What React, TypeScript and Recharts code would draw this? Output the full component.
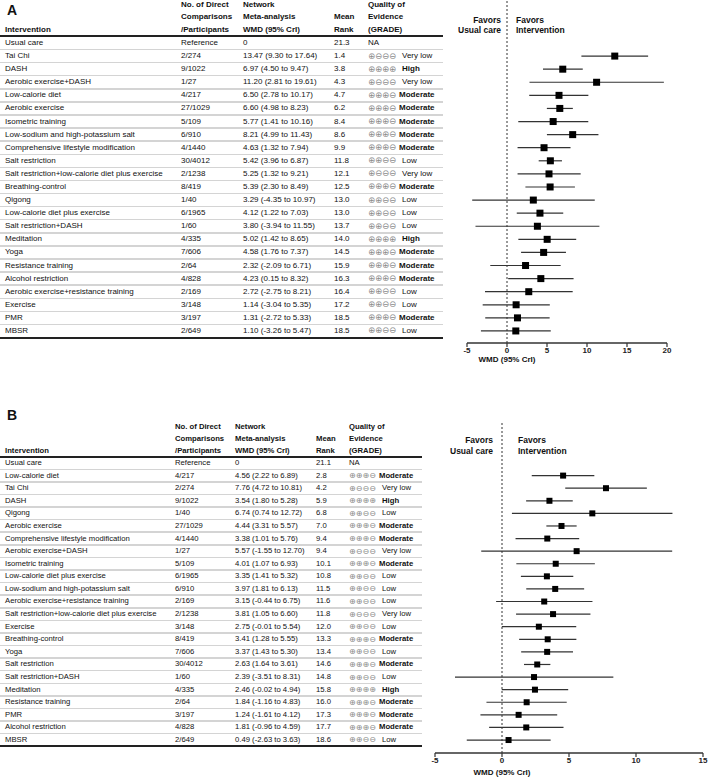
import React from 'react';
import { ScatterChart, Scatter, XAxis, YAxis, ErrorBar, ReferenceLine } from 'recharts';

// ---------- Panel A data ----------
const interventionsA = ['Usual care', 'Tai Chi', 'DASH', 'Aerobic exercise+DASH', 'Low-calorie diet', 'Aerobic exercise', 'Isometric training', 'Low-sodium and high-potassium salt', 'Comprehensive lifestyle modification', 'Salt restriction', 'Salt restriction+low-calorie diet plus exercise', 'Breathing-control', 'Qigong', 'Low-calorie diet plus exercise', 'Salt restriction+DASH', 'Meditation', 'Yoga', 'Resistance training', 'Alcohol restriction', 'Aerobic exercise+resistance training', 'Exercise', 'PMR', 'MBSR'];
const directA = ['Reference', '2/274', '9/1022', '1/27', '4/217', '27/1029', '5/109', '6/910', '4/1440', '30/4012', '2/1238', '8/419', '1/40', '6/1965', '1/60', '4/335', '7/606', '2/64', '4/828', '2/169', '3/148', '3/197', '2/649'];
const estA = [0, 13.47, 6.97, 11.2, 6.5, 6.6, 5.77, 8.21, 4.63, 5.42, 5.25, 5.39, 3.29, 4.12, 3.8, 5.02, 4.58, 2.32, 4.23, 2.72, 1.14, 1.31, 1.1];
const lowA = [0, 9.3, 4.5, 2.81, 2.78, 4.98, 1.41, 4.99, 1.32, 3.96, 1.32, 2.3, -4.35, 1.22, -3.94, 1.42, 1.76, -2.09, 0.15, -2.75, -3.04, -2.72, -3.26];
const highA = [0, 17.64, 9.47, 19.61, 10.17, 8.23, 10.16, 11.43, 7.94, 6.87, 9.21, 8.49, 10.97, 7.03, 11.55, 8.65, 7.37, 6.71, 8.32, 8.21, 5.35, 5.33, 5.47];
const rankA = ['21.3', '1.4', '3.8', '4.3', '4.7', '6.2', '8.4', '8.6', '9.9', '11.8', '12.1', '12.5', '13.0', '13.0', '13.7', '14.0', '14.5', '15.9', '16.3', '16.4', '17.2', '18.5', '18.5'];
const gradeA = ['NA', 'Very low', 'High', 'Very low', 'Moderate', 'Moderate', 'Moderate', 'Moderate', 'Moderate', 'Low', 'Very low', 'Moderate', 'Low', 'Low', 'Low', 'High', 'Moderate', 'Moderate', 'Moderate', 'Low', 'Low', 'Moderate', 'Low'];
const ticksA = [-5, 0, 5, 10, 15, 20];

// ---------- Panel B data ----------
const interventionsB = ['Usual care', 'Low-calorie diet', 'Tai Chi', 'DASH', 'Qigong', 'Aerobic exercise', 'Comprehensive lifestyle modification', 'Aerobic exercise+DASH', 'Isometric training', 'Low-calorie diet plus exercise', 'Low-sodium and high-potassium salt', 'Aerobic exercise+resistance training', 'Salt restriction+low-calorie diet plus exercise', 'Exercise', 'Breathing-control', 'Yoga', 'Salt restriction', 'Salt restriction+DASH', 'Meditation', 'Resistance training', 'PMR', 'Alcohol restriction', 'MBSR'];
const directB = ['Reference', '4/217', '2/274', '9/1022', '1/40', '27/1029', '4/1440', '1/27', '5/109', '6/1965', '6/910', '2/169', '2/1238', '3/148', '8/419', '7/606', '30/4012', '1/60', '4/335', '2/64', '3/197', '4/828', '2/649'];
const estB = [0, 4.56, 7.76, 3.54, 6.74, 4.44, 3.38, 5.57, 4.01, 3.35, 3.97, 3.15, 3.81, 2.75, 3.41, 3.37, 2.63, 2.39, 2.46, 1.84, 1.24, 1.81, 0.49];
const lowB = [0, 2.22, 4.72, 1.8, 0.74, 3.31, 1.01, -1.55, 1.07, 1.41, 1.81, -0.44, 1.05, -0.01, 1.28, 1.43, 1.64, -3.51, -0.02, -1.16, -1.61, -0.96, -2.63];
const highB = [0, 6.89, 10.81, 5.28, 12.72, 5.57, 5.76, 12.7, 6.93, 5.32, 6.13, 6.75, 6.6, 5.54, 5.55, 5.3, 3.61, 8.31, 4.94, 4.83, 4.12, 4.59, 3.63];
const rankB = ['21.1', '2.8', '4.2', '5.9', '6.8', '7.0', '9.4', '9.4', '10.1', '10.8', '11.5', '11.6', '11.8', '12.0', '13.3', '13.4', '14.6', '14.8', '15.8', '16.0', '17.3', '17.7', '18.6'];
const gradeB = ['NA', 'Moderate', 'Very low', 'High', 'Low', 'Moderate', 'Moderate', 'Very low', 'Moderate', 'Low', 'Low', 'Low', 'Very low', 'Low', 'Moderate', 'Low', 'Moderate', 'Low', 'High', 'Moderate', 'Moderate', 'Moderate', 'Low'];
const ticksB = [-5, 0, 5, 10, 15];

const gradeSymbols: Record<string, string> = {
  High: '\u2295\u2295\u2295\u2295',
  Moderate: '\u2295\u2295\u2295\u2296',
  Low: '\u2295\u2295\u2296\u2296',
  'Very low': '\u2295\u2296\u2296\u2296',
};

const FONT = '"Liberation Sans", Arial, Helvetica, sans-serif';

type PanelCfg = {
  letter: string;
  letterY: number;
  headerYs: number[];
  cols: { no: number; wmd: number; rank: number; q: number };
  headerLineY: number;
  row0: number;
  rowH: number;
  bottomLineY: number;
  tableW: number;
  fontSize: number;
  symSize: number;
  gradeOff: number;
  gradeOffMod: number;
  chart: { left: number; top: number; width: number; height: number; margin: any; xAxisH: number; domainX: number[]; domainY: number[]; ticks: number[]; sq: number };
  favorsRight: number;
  favorsLeft: number;
  favorsYs: number[];
  wmdLabel: { x: number; y: number };
};

const cfgA: PanelCfg = {
  letter: 'A', letterY: 10, headerYs: [5, 17, 30],
  cols: { no: 181, wmd: 243, rank: 334, q: 368 },
  headerLineY: 36, row0: 43, rowH: 13.09, bottomLineY: 338, tableW: 443, fontSize: 8, symSize: 8.4,
  gradeOff: 34, gradeOffMod: 31,
  chart: { left: 440, top: 0, width: 269, height: 370, margin: { top: 0, right: 42, bottom: 0, left: 27 }, xAxisH: 27, domainX: [-5, 20], domainY: [-3.285, 22.92], ticks: ticksA, sq: 7 },
  favorsRight: 501, favorsLeft: 516, favorsYs: [20, 30],
  wmdLabel: { x: 507, y: 360 },
};

const cfgB: PanelCfg = {
  letter: 'B', letterY: 415, headerYs: [427, 439, 451],
  cols: { no: 175, wmd: 235, rank: 316, q: 349 },
  headerLineY: 457, row0: 463, rowH: 12.59, bottomLineY: 746, tableW: 422, fontSize: 7.7, symSize: 8.1,
  gradeOff: 33, gradeOffMod: 30,
  chart: { left: 425, top: 390, width: 284, height: 387, margin: { top: 32, right: 6, bottom: 0, left: 10 }, xAxisH: 24, domainX: [-5, 15], domainY: [-3.257, 23.03], ticks: ticksB, sq: 6 },
  favorsRight: 493, favorsLeft: 518, favorsYs: [440, 451],
  wmdLabel: { x: 502, y: 773 },
};

const Txt = ({ x, y, children, bold, size, anchor, color, family }: any) => {
  const lh = Math.ceil(size + 2);
  const style: React.CSSProperties = {
    position: 'absolute', top: y - lh / 2, lineHeight: lh + 'px', fontSize: size, whiteSpace: 'nowrap',
    fontWeight: bold ? 'bold' : 'normal', color: color || '#111', fontFamily: family || FONT,
  };
  if (anchor === 'end') { style.right = 709 - x; style.textAlign = 'right'; }
  else if (anchor === 'middle') { style.left = x - 100; style.width = 200; style.textAlign = 'center'; }
  else style.left = x;
  return <div style={style}>{children}</div>;
};

const HLine = ({ y, w, color, t }: any) => (
  <div style={{ position: 'absolute', left: 0, top: y - t / 2, width: w, height: t, background: color }} />
);

const Panel = ({ cfg, names, direct, est, low, high, rank, grade }: any) => {
  const fs = cfg.fontSize;
  const rowY = (i: number) => cfg.row0 + cfg.rowH * i;
  const [h1, h2, h3] = cfg.headerYs;
  const data = names.map((n: string, i: number) => ({ name: n, x: est[i], y: i, err: [est[i] - low[i], high[i] - est[i]] })).filter((d: any, i: number) => i > 0);
  const c = cfg.chart;
  const sq = c.sq;
  return (
    <>
      <Txt x={7} y={cfg.letterY} bold size={14}>{cfg.letter}</Txt>
      <Txt x={5} y={h3} bold size={fs}>Intervention</Txt>
      <Txt x={cfg.cols.no} y={h1} bold size={fs}>No. of Direct</Txt>
      <Txt x={cfg.cols.no} y={h2} bold size={fs}>Comparisons</Txt>
      <Txt x={cfg.cols.no} y={h3} bold size={fs}>/Participants</Txt>
      <Txt x={cfg.cols.wmd} y={h1} bold size={fs}>Network</Txt>
      <Txt x={cfg.cols.wmd} y={h2} bold size={fs}>Meta-analysis</Txt>
      <Txt x={cfg.cols.wmd} y={h3} bold size={fs}>WMD (95% CrI)</Txt>
      <Txt x={cfg.cols.rank} y={h2} bold size={fs}>Mean</Txt>
      <Txt x={cfg.cols.rank} y={h3} bold size={fs}>Rank</Txt>
      <Txt x={cfg.cols.q} y={h1} bold size={fs}>Quality of</Txt>
      <Txt x={cfg.cols.q} y={h2} bold size={fs}>Evidence</Txt>
      <Txt x={cfg.cols.q} y={h3} bold size={fs}>(GRADE)</Txt>
      {names.map((n: string, i: number) => i < names.length - 1 ? (
        <HLine key={'s' + i} y={rowY(i) + cfg.rowH / 2} w={cfg.tableW} color="#d4d4d4" t={1.5} />
      ) : null)}
      <HLine y={cfg.headerLineY} w={cfg.tableW} color="#222" t={1.6} />
      <HLine y={cfg.bottomLineY} w={cfg.tableW} color="#222" t={1.6} />
      {names.map((n: string, i: number) => {
        const y = rowY(i);
        const g = grade[i];
        const wmd = i === 0 ? '0' : `${est[i].toFixed(2)} (${low[i].toFixed(2)} to ${high[i].toFixed(2)})`;
        return (
          <React.Fragment key={n}>
            <Txt x={5} y={y} size={fs}>{n}</Txt>
            <Txt x={cfg.cols.no} y={y} size={fs}>{direct[i]}</Txt>
            <Txt x={cfg.cols.wmd} y={y} size={fs}>{wmd}</Txt>
            <Txt x={cfg.cols.rank} y={y} size={fs}>{rank[i]}</Txt>
            {g === 'NA' ? (
              <Txt x={cfg.cols.q} y={y} size={fs}>NA</Txt>
            ) : (
              <>
                <Txt x={cfg.cols.q} y={y} size={cfg.symSize} color="#8a8a8a" family='"DejaVu Sans", sans-serif'>{gradeSymbols[g]}</Txt>
                <Txt x={cfg.cols.q + (g === 'Moderate' ? cfg.gradeOffMod : cfg.gradeOff)} y={y} size={fs} bold={g === 'Moderate' || g === 'High'}>{g}</Txt>
              </>
            )}
          </React.Fragment>
        );
      })}
      <div style={{ position: 'absolute', left: c.left, top: c.top, width: c.width, height: c.height }}>
        <ScatterChart width={c.width} height={c.height} margin={c.margin}>
          <XAxis type="number" dataKey="x" domain={c.domainX} ticks={c.ticks} interval={0} allowDataOverflow
            height={c.xAxisH} tickSize={4} tickMargin={0}
            axisLine={{ stroke: '#333', strokeWidth: 1.5 }} tickLine={{ stroke: '#333', strokeWidth: 1.2 }}
            tick={{ fontSize: 8, fill: '#222', fontFamily: FONT, fontWeight: 'bold' }} />
          <YAxis type="number" dataKey="y" domain={c.domainY} reversed hide allowDataOverflow />
          <ReferenceLine x={0} stroke="#333" strokeDasharray="2 2" strokeWidth={1} ifOverflow="extendDomain" />
          <Scatter data={data} isAnimationActive={false} fill="#000"
            shape={(p: any) => <rect x={p.cx - sq / 2} y={p.cy - sq / 2} width={sq} height={sq} fill="#000" />}>
            <ErrorBar dataKey="err" direction="x" width={0} stroke="#333" strokeWidth={1.2} />
          </Scatter>
        </ScatterChart>
      </div>
      <Txt x={cfg.favorsRight} y={cfg.favorsYs[0]} bold size={8.5} anchor="end">Favors</Txt>
      <Txt x={cfg.favorsRight} y={cfg.favorsYs[1]} bold size={8.5} anchor="end">Usual care</Txt>
      <Txt x={cfg.favorsLeft} y={cfg.favorsYs[0]} bold size={8.5}>Favors</Txt>
      <Txt x={cfg.favorsLeft} y={cfg.favorsYs[1]} bold size={8.5}>Intervention</Txt>
      <Txt x={cfg.wmdLabel.x} y={cfg.wmdLabel.y} bold size={8} anchor="middle">WMD (95% CrI)</Txt>
    </>
  );
};

export default function App() {
  return (
    <div style={{ position: 'absolute', left: 0, top: 0, width: 709, height: 777, background: '#fff', fontFamily: FONT, overflow: 'hidden' }}>
      <Panel cfg={cfgA} names={interventionsA} direct={directA} est={estA} low={lowA} high={highA} rank={rankA} grade={gradeA} />
      <Panel cfg={cfgB} names={interventionsB} direct={directB} est={estB} low={lowB} high={highB} rank={rankB} grade={gradeB} />
    </div>
  );
}
